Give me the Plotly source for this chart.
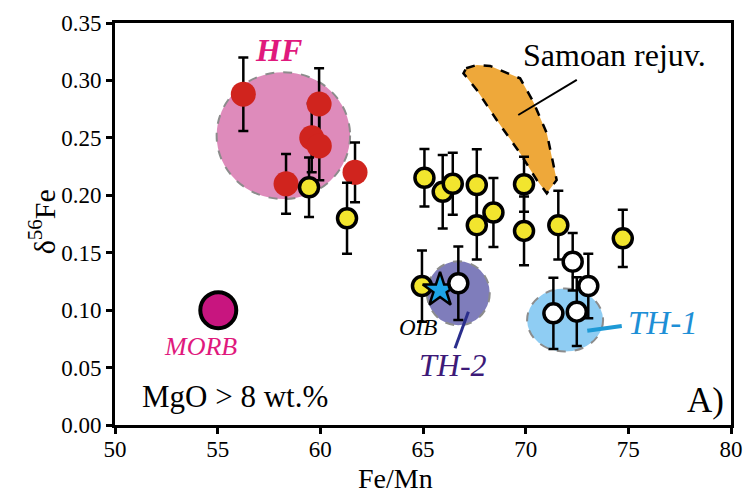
import plotly.graph_objects as go

# --- data -------------------------------------------------------------
# HF samples (red)
hf_x = [56.25, 59.94, 59.58, 59.95, 58.33, 61.69]
hf_y = [0.288, 0.2795, 0.250, 0.243, 0.210, 0.220]
hf_err = [0.032, 0.031, 0.030, 0.030, 0.026, 0.026]

# OIB-type samples (yellow)
yl_x = [59.45, 61.30, 64.95, 65.07, 65.96, 66.45, 67.62, 69.92, 68.43,
        67.62, 71.59, 69.92, 74.73]
yl_y = [0.207, 0.180, 0.121, 0.2153, 0.203, 0.210, 0.209, 0.2096, 0.185,
        0.174, 0.174, 0.169, 0.1625]
yl_err = [0.026, 0.031, 0.031, 0.025, 0.032, 0.027, 0.031, 0.024, 0.030,
          0.030, 0.030, 0.030, 0.025]

# TH samples (white)
wh_x = [66.72, 72.29, 73.05, 71.35, 72.49]
wh_y = [0.1234, 0.1422, 0.121, 0.0972, 0.0987]
wh_err = [0.032, 0.025, 0.028, 0.031, 0.030]

# reference compositions
morb_x, morb_y = [55.03], [0.100]
oib_x, oib_y = [65.83], [0.1175]

# field outlines: HF, TH-2, TH-1 (centre x, centre y, half-width x, half-height y)
field_cx = [58.20, 66.72, 71.92]
field_cy = [0.252, 0.1147, 0.0914]
field_rx = [3.25, 1.53, 1.85]
field_ry = [0.0552, 0.0279, 0.0275]
field_fill = ["#DE8BBB", "#7F7DBB", "#8FCDF3"]

# Samoan rejuvenated field
samoa_x = [67.10, 67.62, 68.27, 69.73, 70.37, 71.03, 71.51, 71.03, 70.54,
           69.73, 68.59, 67.62, 66.97, 67.10]
samoa_y = [0.3106, 0.3134, 0.3126, 0.3018, 0.2815, 0.2540, 0.2133, 0.2017,
           0.2133, 0.2366, 0.2655, 0.2917, 0.3062, 0.3106]

# leader lines: Samoan, TH-2, TH-1
lead_samoa_x, lead_samoa_y = [69.64, 72.49], [0.2699, 0.3004]
lead_th2_x, lead_th2_y = [67.21, 66.56], [0.0986, 0.0668]
lead_th1_x, lead_th1_y = [73.00, 74.68], [0.0821, 0.0862]

SERIF = "Liberation Serif"

fig = go.Figure()

# Samoan field
fig.add_trace(go.Scatter(
    x=samoa_x, y=samoa_y, mode="lines", fill="toself",
    fillcolor="#EEA83A", line=dict(color="black", width=2.5, dash="dash"),
    hoverinfo="skip", showlegend=False))

fig.add_trace(go.Scatter(x=lead_samoa_x, y=lead_samoa_y, mode="lines",
                         line=dict(color="black", width=2), showlegend=False))

for cx, cy, rx, ry, col in zip(field_cx, field_cy, field_rx, field_ry, field_fill):
    fig.add_shape(type="circle", xref="x", yref="y",
                  x0=cx - rx, x1=cx + rx, y0=cy - ry, y1=cy + ry,
                  fillcolor=col, line=dict(color="#8C8C8C", width=2, dash="dash"),
                  layer="below")

fig.add_trace(go.Scatter(x=lead_th2_x, y=lead_th2_y, mode="lines",
                         line=dict(color="#2A2E8C", width=3), showlegend=False))
fig.add_trace(go.Scatter(x=lead_th1_x, y=lead_th1_y, mode="lines",
                         line=dict(color="#1E9AD6", width=4), showlegend=False))

err_style = dict(type="data", thickness=2.5, width=5, color="black")

fig.add_trace(go.Scatter(
    x=hf_x, y=hf_y, mode="markers",
    error_y=dict(array=hf_err, **err_style),
    marker=dict(size=25, color="#D0241E", line=dict(width=0)),
    showlegend=False))

fig.add_trace(go.Scatter(
    x=yl_x, y=yl_y, mode="markers",
    error_y=dict(array=yl_err, **err_style),
    marker=dict(size=19, color="#F2E52E", line=dict(color="black", width=3.5)),
    showlegend=False))

fig.add_trace(go.Scatter(
    x=oib_x, y=oib_y, mode="markers",
    marker=dict(symbol="star", size=26, color="#1EA5E8",
                line=dict(color="black", width=2.5)),
    showlegend=False))

fig.add_trace(go.Scatter(
    x=wh_x, y=wh_y, mode="markers",
    error_y=dict(array=wh_err, **err_style),
    marker=dict(size=19, color="white", line=dict(color="black", width=3.5)),
    showlegend=False))

fig.add_trace(go.Scatter(
    x=morb_x, y=morb_y, mode="markers",
    marker=dict(size=36, color="#C8157F", line=dict(color="black", width=4)),
    showlegend=False))

# --- annotations ------------------------------------------------------
def label(x, y, text, size, color="black", italic=False, bold=False):
    t = text
    if bold:
        t = "<b>" + t + "</b>"
    if italic:
        t = "<i>" + t + "</i>"
    fig.add_annotation(x=x, y=y, xref="x", yref="y", text=t, showarrow=False,
                       font=dict(family=SERIF, size=size, color=color))

label(57.94, 0.3265, "HF", 32, "#E0197D", italic=True, bold=True)
label(74.35, 0.322, "Samoan rejuv.", 32)
label(54.14, 0.068, "MORB", 26, "#E0197D", italic=True)
label(64.76, 0.0853, "OIB", 23, italic=True)
label(66.45, 0.052, "TH-2", 32, "#3D1A78", italic=True)
label(76.70, 0.0888, "TH-1", 33, "#1E8FD6", italic=True)
label(78.74, 0.0215, "A)", 35)
label(55.85, 0.0244, "MgO > 8 wt.%", 31)

# axis titles placed in paper coordinates
fig.add_annotation(x=0.455, y=-0.132, xref="paper", yref="paper",
                   text="Fe/Mn", showarrow=False, yanchor="middle",
                   font=dict(family=SERIF, size=28, color="black"))
fig.add_annotation(x=-0.118, y=0.505, xref="paper", yref="paper",
                   text="δ<sup>56</sup>Fe", showarrow=False, textangle=-90,
                   xanchor="center", yanchor="middle",
                   font=dict(family=SERIF, size=30, color="black"))

axis_common = dict(
    showline=True, linecolor="black", linewidth=3, mirror=True,
    ticks="outside", ticklen=6, tickwidth=2.5, tickcolor="black",
    showgrid=False, zeroline=False, automargin=False,
    ticklabeloverflow="allow",
    tickfont=dict(family=SERIF, size=23, color="black"),
)

fig.update_layout(
    width=744, height=494,
    margin=dict(l=115, r=13, t=23, b=69, autoexpand=False),
    plot_bgcolor="white", paper_bgcolor="white",
    xaxis=dict(range=[50, 80], tickvals=[50, 55, 60, 65, 70, 75, 80],
               ticklabelstandoff=-5, **axis_common),
    yaxis=dict(range=[0, 0.35], tickvals=[0, 0.05, 0.1, 0.15, 0.2, 0.25, 0.3, 0.35],
               tickformat=".2f", **axis_common),
)

fig.write_html("out.html")
